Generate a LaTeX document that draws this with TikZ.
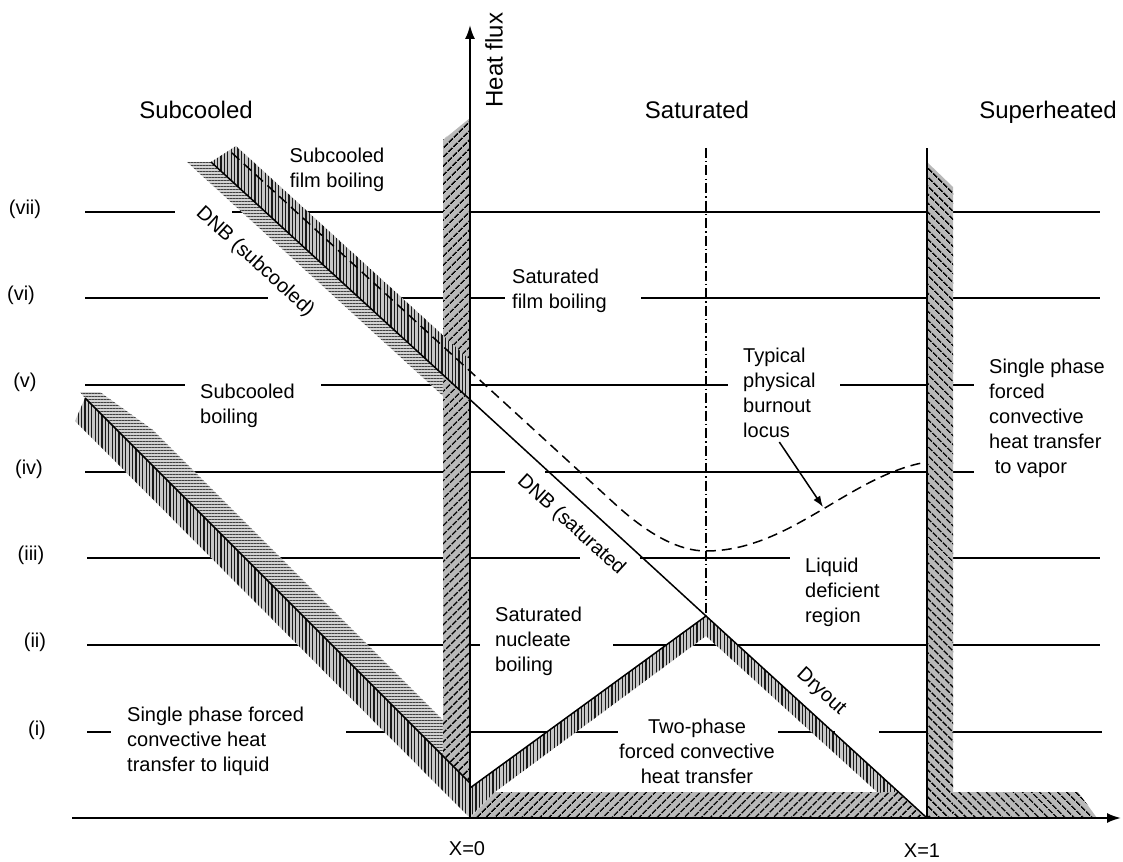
\documentclass[tikz,border=0pt]{standalone}
\usepackage{fontspec}
\setmainfont{Liberation Sans}
\usetikzlibrary{arrows.meta,patterns.meta}

\tikzset{
  levelline/.style={line width=1.3pt},
  boundary/.style={line width=1.5pt},
  axisline/.style={line width=2pt, -{Latex[length=14pt,width=10pt]}},
  bodytext/.style={font=\fontsize{20}{25}\selectfont, inner sep=0pt},
  regiontext/.style={bodytext, align=left, anchor=west},
  headtext/.style={font=\fontsize{24}{28}\selectfont, inner sep=0pt},
  hatchne/.style={preaction={fill=gray!55}, pattern={Lines[angle=45,distance=6.5pt,line width=1.8pt]}, pattern color=black},
  hatchnw/.style={preaction={fill=gray!55}, pattern={Lines[angle=-45,distance=6.5pt,line width=1.8pt]}, pattern color=black},
  hatchv/.style={preaction={fill=gray!45}, pattern={Lines[angle=90,distance=3.4pt,line width=1.1pt]}, pattern color=black!90},
  hatchh/.style={preaction={fill=gray!35}, pattern={Lines[angle=0,distance=3pt,line width=0.9pt]}, pattern color=black!75},
}

\begin{document}
\begin{tikzpicture}[x=1pt, y=-1pt]
  \useasboundingbox (0,0) rectangle (1123,861);

  % Coordinates
  \coordinate (origin) at (470,818);
  \coordinate (xend) at (1121,818);
  \coordinate (yend) at (470,25);
  \coordinate (xstart) at (72,818);
  \coordinate (xone) at (927,818);
  \coordinate (apex) at (706,616);
  \coordinate (locustip) at (823,507);

  % Levels
  \draw[levelline] (85,212) -- (175,212) (232,212) -- (1100,212);
  \draw[levelline] (85,298) -- (268,298) (388,298) -- (505,298) (641,298) -- (1100,298);
  \draw[levelline] (85,385) -- (185,385) (321,385) -- (728,385) (840,385) -- (974,385);
  \draw[levelline] (85,472) -- (505,472) (545,472) -- (974,472);
  \draw[levelline] (87,558) -- (580,558) (640,558) -- (790,558) (953,558) -- (1100,558);
  \draw[levelline] (87,645) -- (480,645) (613,645) -- (1100,645);
  \draw[levelline] (87,732) -- (111,732) (346,732) -- (618,732) (778,732) -- (835,732) (879,732) -- (1102,732);

  % Bands
  \path[hatchh] (80,392) -- (100,392) -- (153,430) -- (443,720) -- (443,756) -- (85,398) -- cycle;
  \path[hatchv] (85,398) -- (470,783) -- (470,818) -- (75,421) -- cycle;
  \path[hatchne] (443,140) -- (470,118) -- (470,783) -- (443,756) -- cycle;
  \path[hatchh] (187,162) -- (211,162) -- (443,374) -- (443,396) -- cycle;
  \path[hatchv] (211,162) -- (236,146) -- (470,360) -- (470,399) -- cycle;
  \path[hatchv] (470,788) -- (apex) -- (706,636) -- (495,792) -- (470,817) -- cycle;
  \path[hatchv] (apex) -- (899,792) -- (877,792) -- (706,636) -- cycle;
  \path[hatchne] (470,818) -- (495,792) -- (899,792) -- (xone) -- cycle;
  \path[hatchnw] (927,162) -- (953,187) -- (953,818) -- (xone) -- cycle;
  \path[hatchnw] (953,792) -- (1078,792) -- (1097,818) -- (953,818) -- cycle;

  % Boundaries
  \draw[boundary] (85,398) -- (470,783);
  \draw[boundary] (211,162) -- (apex);
  \draw[boundary] (470,788) -- (apex) -- (xone);
  \draw[boundary, dash pattern=on 10pt off 3pt on 1.5pt off 3pt] (706,148) -- (apex);
  \draw[boundary, dash pattern=on 10pt off 6pt]
    (232,153) -- (615,504) .. controls (650,536) and (680,551) .. (706,551)
    .. controls (790,551) and (850,475) .. (927,462);

  % Axes
  \draw[axisline] (xstart) -- (xend);
  \draw[axisline] (origin) -- (yend);
  \draw[line width=2pt] (xone) -- (927,148);

  % Headings
  \node[headtext] (subcooled) at (196,110) {Subcooled};
  \node[headtext] (saturated) at (697,110) {Saturated};
  \node[headtext] (superheated) at (1048,112) {Superheated};
  \node[headtext, rotate=90] (flux) at (494,60) {Heat flux};
  \node[bodytext] (xzero) at (467,849) {X=0};
  \node[bodytext] (xonelabel) at (922,851) {X=1};

  % Levels labels
  \foreach \name/\px/\py in {vii/25/209, vi/21/295, v/25/382, iv/29/469, iii/31/555, ii/35/642, i/37/730}
    \node[bodytext] (lev\name) at (\px,\py) {(\name)};

  % Regions
  \node[bodytext, align=center] (subfilm) at (337,170) {Subcooled\\film boiling};
  \node[regiontext] (satfilm) at (512,291) {Saturated\\film boiling};
  \node[regiontext] (subboil) at (200,406) {Subcooled\\boiling};
  \node[regiontext] (burnout) at (743,393) {Typical\\physical\\burnout\\locus};
  \node[regiontext] (vapor) at (989,418) {Single phase\\forced\\convective\\heat transfer\\\ to vapor};
  \node[regiontext] (liqdef) at (805,592) {Liquid\\deficient\\region};
  \node[regiontext] (nucleate) at (495,641) {Saturated\\nucleate\\boiling};
  \node[bodytext, align=center] (twophase) at (697,751) {Two-phase\\forced convective\\heat transfer};
  \node[regiontext] (liquid) at (127,741) {Single phase forced\\convective heat\\transfer to liquid};
  \node[bodytext, rotate=-42.5] (dnbsub) at (255,262) {DNB (subcooled)};
  \node[bodytext, rotate=-42.5] (dnbsat) at (571,525) {DNB (saturated};
  \node[bodytext, rotate=-42.3] (dryout) at (821,692) {Dryout};

  % Burnout arrow
  \draw[boundary, -{Latex[length=11pt,width=8pt]}] ([yshift=-4pt]burnout.south) -- (locustip);
\end{tikzpicture}
\end{document}
